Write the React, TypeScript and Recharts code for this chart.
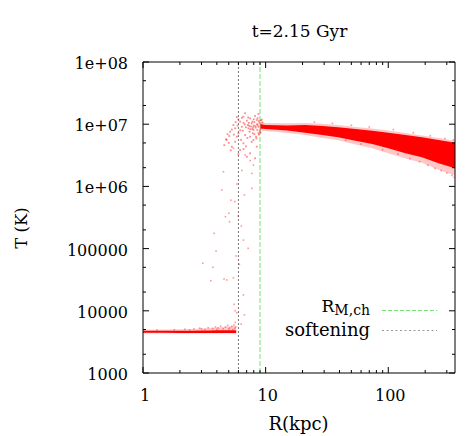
import React from 'react';
import { ComposedChart, XAxis, YAxis, Area, Scatter, ReferenceLine, Customized } from 'recharts';

const FONT = 'DejaVu Serif';

// axis ticks
const xTicks = [1, 2, 3, 4, 5, 6, 7, 8, 9, 10, 20, 30, 40, 50, 60, 70, 80, 90, 100, 200, 300];
const xLabelValues = [1, 10, 100];
const xLabelTexts = ['1', '10', '100'];
const yTicks = [1000, 2000, 5000, 10000, 20000, 50000, 1e5, 2e5, 5e5, 1e6, 2e6, 5e6, 1e7, 2e7, 5e7, 1e8];
const yLabelValues = [1000, 10000, 100000, 1e6, 1e7, 1e8];
const yLabelTexts = ['1000', '10000', '100000', '1e+06', '1e+07', '1e+08'];

// cold plateau (dense band)
const plateauR = [1, 1.5, 2, 2.5, 3, 3.5, 4, 4.5, 5, 5.5, 5.75];
const plateauLo = [4420, 4420, 4410, 4410, 4400, 4400, 4400, 4390, 4390, 4390, 4390];
const plateauHi = [4780, 4780, 4790, 4800, 4810, 4830, 4850, 4870, 4880, 4880, 4860];
const plateauFringeLo = [4330, 4330, 4320, 4320, 4310, 4310, 4300, 4300, 4300, 4300, 4300];
const plateauFringeHi = [4950, 5000, 5050, 5100, 5200, 5300, 5400, 5500, 5600, 5700, 5600];

// hot halo gas (dense band)
const hotR = [9, 10, 15, 21, 29, 39, 54, 74, 100, 138, 188, 257, 350];
const hotLo = [8.5e6, 8.4e6, 7.9e6, 7.3e6, 6.7e6, 6.15e6, 5.43e6, 4.81e6, 4.1e6, 3.41e6, 2.94e6, 2.35e6, 1.95e6];
const hotHi = [1.0e7, 9.7e6, 9.5e6, 9.7e6, 9.35e6, 8.9e6, 8.37e6, 7.87e6, 7.3e6, 6.7e6, 6.15e6, 5.57e6, 5.05e6];
const hotFringeLo = [8.0e6, 7.8e6, 7.2e6, 6.7e6, 6.0e6, 5.5e6, 4.7e6, 4.1e6, 3.4e6, 2.8e6, 2.4e6, 1.85e6, 1.5e6];
const hotFringeHi = [1.1e7, 1.05e7, 1.04e7, 1.05e7, 1.02e7, 9.7e6, 9.0e6, 8.5e6, 7.9e6, 7.2e6, 6.6e6, 6.0e6, 5.4e6];

// sparse particles in the transition zone
const transR = [5.82, 7.71, 4.39, 6.71, 5.2, 5.61, 5.01, 4.7, 5.97, 5.07, 6.34, 3.8, 6.59, 7.2, 3.94, 5.74, 6.11, 3.07, 3.71, 5.46, 4.58, 4.82, 3.57, 6.59, 5.53, 5.64, 6.71, 6.31, 4.53, 5.82, 5.46, 6.8, 7.47, 7.95, 6.39, 7.71];
const transT = [1.09e6, 9.3e5, 8.75e5, 7.3e5, 6.0e5, 5.7e5, 3.7e5, 3.26e5, 3.34e5, 2.7e5, 2.3e5, 1.76e5, 1.37e5, 1.01e5, 9.1e4, 7.6e4, 5.6e4, 5.8e4, 5.0e4, 3.4e4, 3.24e4, 3.13e4, 3.05e4, 1.8e4, 1.27e4, 1.0e4, 8.6e3, 6.1e3, 1.72e6, 9.3e3, 4.1e6, 3.2e6, 2.6e6, 2.2e6, 1.8e6, 1.62e6];

// clump of hot particles inside the softening / R_M,ch zone
const clumpR = [5.82, 6.59, 7.47, 8.2, 6.19, 7.03, 7.71, 8.47, 5.46, 6.39, 7.24, 7.95, 8.73, 5.13, 6.0, 6.8, 7.47, 4.82, 5.64, 6.59, 7.95, 5.3, 6.19, 7.47, 8.47, 4.76, 8.2, 7.03, 5.82, 6.51, 7.16, 7.86, 8.73, 8.36, 5.64, 5.06, 6.8, 8.73, 8.0, 8.5, 8.9, 9.2, 8.3, 9.0, 7.6, 8.8, 9.4, 7.3, 8.1, 9.3, 8.6, 8.95, 9.1, 7.8,
  6.2, 6.9, 7.4, 8.1, 5.9, 6.6, 7.8, 8.6, 5.3, 6.0, 7.1, 7.7, 8.4, 5.0, 5.5, 6.3, 6.9, 7.5, 8.0, 8.8, 9.1, 6.4, 7.2, 5.7, 8.25, 7.9, 8.55, 9.3, 6.75, 7.35, 4.9, 4.6, 5.2, 6.0, 6.6];
const clumpT = [1.3e7, 1.32e7, 1.24e7, 1.36e7, 1.1e7, 1.14e7, 1.03e7, 1.17e7, 9.7e6, 9.1e6, 8.6e6, 8.07e6, 9.1e6, 7.57e6, 7.14e6, 6.7e6, 6.3e6, 5.57e6, 5.23e6, 4.93e6, 5.57e6, 4.35e6, 3.85e6, 3.4e6, 4.35e6, 5.72e6, 2.83e6, 3.0e6, 6.3e6, 7.87e6, 9.7e6, 7.14e6, 7.14e6, 6.3e6, 8.6e6, 6.46e6, 1.5e7, 1.46e7, 9.5e6, 1.0e7, 1.05e7, 9.8e6, 8.8e6, 8.2e6, 9.2e6, 1.12e7, 1.07e7, 1.05e7, 1.08e7, 8.9e6, 9.6e6, 7.6e6, 1.15e7, 8.4e6,
  8.0e6, 8.9e6, 7.6e6, 6.9e6, 9.5e6, 1.05e7, 1.1e7, 1.25e7, 8.2e6, 1.2e7, 6.0e6, 5.2e6, 5.9e6, 5.0e6, 6.8e6, 5.6e6, 4.4e6, 8.3e6, 1.2e7, 6.8e6, 7.3e6, 1.27e7, 1.28e7, 1.08e7, 9.3e6, 8.9e6, 8.1e6, 1.18e7, 9.9e6, 9.4e6, 6.9e6, 4.6e6, 3.8e6, 3.3e6, 4.0e6];

// speckles above the cold plateau
const speckR = [1.3, 1.8, 2.2, 2.6, 2.9, 3.2, 3.4, 3.7, 3.9, 4.1, 4.3, 4.5, 4.7, 4.9, 5.1, 5.3, 5.5, 5.6, 5.7, 2.4, 3.0, 4.0, 5.0, 5.4, 5.65];
const speckT = [4900, 4950, 5050, 5100, 5250, 5000, 5350, 5200, 5500, 5300, 5650, 5150, 5450, 5800, 5300, 5600, 5900, 5200, 5500, 4900, 5150, 5000, 5100, 5000, 6500];

// scattered outliers around the hot band
const outR = [90, 120, 150, 180, 210, 240, 270, 300, 330, 345, 60, 45, 25, 35, 50, 70, 110, 160, 220, 290, 340];
const outT = [3.9e6, 3.3e6, 2.8e6, 2.5e6, 2.2e6, 1.95e6, 1.8e6, 1.65e6, 1.5e6, 1.4e6, 4.8e6, 5.5e6, 1.08e7, 1.03e7, 9.6e6, 9.0e6, 8.2e6, 7.3e6, 6.5e6, 5.9e6, 5.6e6];

const softening = 6;
const rMch = 9;

const zip = (rs: number[], ts: number[]) => rs.map((R, i) => ({ R, T: ts[i] }));

const bandData = [
  ...plateauR.map((R, i) => ({ R, plat: [plateauLo[i], plateauHi[i]], platFringe: [plateauFringeLo[i], plateauFringeHi[i]] })),
  ...hotR.map((R, i) => ({ R, hot: [hotLo[i], hotHi[i]], hotFringe: [hotFringeLo[i], hotFringeHi[i]] })),
];

const isMajorX = (v: number) => xLabelValues.indexOf(v) >= 0;
const isMajorY = (v: number) => yLabelValues.indexOf(v) >= 0;

const BottomTick = (props: any) => {
  const { x, y, payload } = props;
  const v = payload.value;
  const idx = xLabelValues.indexOf(v);
  return (
    <g>
      <line x1={x} x2={x} y1={y} y2={y - (idx >= 0 ? 6 : 3)} stroke="#000" />
      {idx >= 0 && (
        <text x={x + 2} y={y + 28} textAnchor="middle" fontSize={16} fontFamily={FONT} fill="#000">
          {xLabelTexts[idx]}
        </text>
      )}
    </g>
  );
};

const TopTick = (props: any) => {
  const { x, y, payload } = props;
  return <line x1={x} x2={x} y1={y} y2={y + (isMajorX(payload.value) ? 6 : 3)} stroke="#000" />;
};

const LeftTick = (props: any) => {
  const { x, y, payload } = props;
  const idx = yLabelValues.indexOf(payload.value);
  return (
    <g>
      <line x1={x} x2={x + (idx >= 0 ? 6 : 3)} y1={y} y2={y} stroke="#000" />
      {idx >= 0 && (
        <text x={x - 15} y={y + 7} textAnchor="end" fontSize={16} fontFamily={FONT} fill="#000">
          {yLabelTexts[idx]}
        </text>
      )}
    </g>
  );
};

const RightTick = (props: any) => {
  const { x, y, payload } = props;
  return <line x1={x} x2={x - (isMajorY(payload.value) ? 6 : 3)} y1={y} y2={y} stroke="#000" />;
};

const dot = (color: string, op: number, s: number) => (p: any) => (
  <rect x={p.cx - s / 2} y={p.cy - s / 2} width={s} height={s} fill={color} fillOpacity={op} />
);

const Overlay = () => (
  <g fontFamily={FONT} fill="#000">
    <text x={299.5} y={37} textAnchor="middle" fontSize={17}>t=2.15 Gyr</text>
    <text x={298.5} y={430} textAnchor="middle" fontSize={18}>R(kpc)</text>
    <text x={27} y={228} textAnchor="middle" fontSize={16.5} transform="rotate(-90, 27, 228)">T (K)</text>
    <text x={370} y={312} textAnchor="end" fontSize={17}>
      R<tspan fontSize={14} dy={3}>M,ch</tspan>
    </text>
    <text x={370} y={335.5} textAnchor="end" fontSize={18}>softening</text>
    <line x1={382} x2={437} y1={310.5} y2={310.5} stroke="#77e077" strokeDasharray="4 2" />
    <line x1={382} x2={437} y1={330.5} y2={330.5} stroke="#999" strokeDasharray="2 2.5" />
  </g>
);

export default function App() {
  return (
    <div style={{ position: 'absolute', left: 0, top: 0, width: 476, height: 436, background: '#fff' }}>
      <ComposedChart width={476} height={436} data={bandData} margin={{ top: 61, right: 20, bottom: 62, left: 142 }}>
        <XAxis dataKey="R" type="number" scale="log" domain={[1, 350]} allowDataOverflow ticks={xTicks} interval={0}
          height={1} tickSize={0} tickMargin={0} tickLine={false} tick={<BottomTick />} axisLine={{ stroke: '#000' }} />
        <XAxis xAxisId="top" orientation="top" dataKey="R" type="number" scale="log" domain={[1, 350]} allowDataOverflow ticks={xTicks} interval={0}
          height={1} tickSize={0} tickMargin={0} tickLine={false} tick={<TopTick />} axisLine={{ stroke: '#000' }} />
        <YAxis type="number" scale="log" domain={[1000, 1e8]} allowDataOverflow ticks={yTicks} interval={0}
          width={1} tickSize={0} tickMargin={0} tickLine={false} tick={<LeftTick />} axisLine={{ stroke: '#000' }} />
        <YAxis yAxisId="right" orientation="right" type="number" scale="log" domain={[1000, 1e8]} allowDataOverflow ticks={yTicks} interval={0}
          width={1} tickSize={0} tickMargin={0} tickLine={false} tick={<RightTick />} axisLine={{ stroke: '#000' }} />
        <Area dataKey="platFringe" type="linear" stroke="none" fill="#ff0000" fillOpacity={0.2} isAnimationActive={false} connectNulls={false} activeDot={false} />
        <Area dataKey="plat" type="linear" stroke="none" fill="#ff0000" fillOpacity={1} isAnimationActive={false} connectNulls={false} activeDot={false} />
        <Area dataKey="hotFringe" type="linear" stroke="none" fill="#ff0000" fillOpacity={0.22} isAnimationActive={false} connectNulls={false} activeDot={false} />
        <Area dataKey="hot" type="linear" stroke="none" fill="#ff0000" fillOpacity={1} isAnimationActive={false} connectNulls={false} activeDot={false} />
        <Scatter data={zip(transR, transT)} dataKey="T" shape={dot('#ff0000', 0.4, 1.6)} isAnimationActive={false} />
        <Scatter data={zip(clumpR, clumpT)} dataKey="T" shape={dot('#ff0000', 0.45, 1.8)} isAnimationActive={false} />
        <Scatter data={zip(speckR, speckT)} dataKey="T" shape={dot('#ff0000', 0.4, 1.6)} isAnimationActive={false} />
        <Scatter data={zip(outR, outT)} dataKey="T" shape={dot('#ff0000', 0.4, 1.6)} isAnimationActive={false} />
        <ReferenceLine x={softening} stroke="#777" strokeDasharray="2 2" />
        <ReferenceLine x={rMch} stroke="#77e077" strokeDasharray="5 2" />
        <Customized component={<Overlay />} />
      </ComposedChart>
    </div>
  );
}
